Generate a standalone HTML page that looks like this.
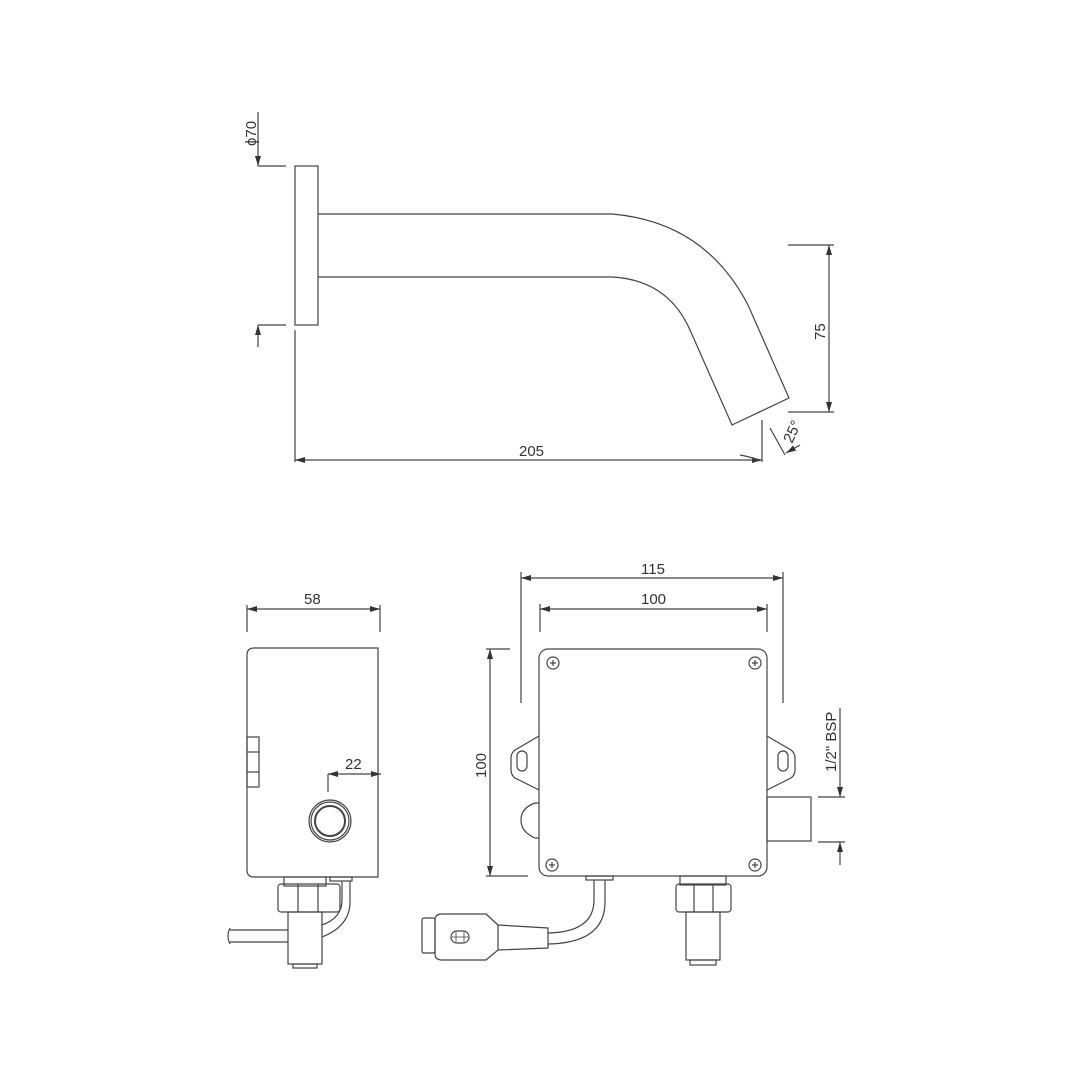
<!DOCTYPE html>
<html><head><meta charset="utf-8"><style>body{margin:0;background:#fff}svg{display:block}text{font-family:"Liberation Sans",sans-serif;fill:#333;stroke:none;font-size:15px}</style></head><body>
<svg width="1080" height="1080" viewBox="0 0 1080 1080" fill="none" stroke="#444" stroke-width="1.2">
<defs><marker id="a" markerWidth="10" markerHeight="6" refX="10" refY="3" orient="auto-start-reverse" markerUnits="userSpaceOnUse"><path d="M0,0 L10,3 L0,6z" fill="#333" stroke="none"/></marker></defs>
<rect x="295" y="166" width="23" height="159"/>
<path d="M318,214 H612 Q705,222 748,305 L789,398 L732,425 L690,330 Q668,280 612,277 H318"/>
<line x1="258" y1="112" x2="258" y2="166" marker-end="url(#a)"/>
<line x1="258" y1="166" x2="286" y2="166"/>
<line x1="258" y1="347" x2="258" y2="325" marker-end="url(#a)"/>
<line x1="258" y1="325" x2="286" y2="325"/>
<text transform="translate(256,146) rotate(-90)">ϕ70</text>
<line x1="788" y1="245" x2="834" y2="245"/><line x1="788" y1="412" x2="834" y2="412"/>
<line x1="829" y1="330" x2="829" y2="245" marker-end="url(#a)"/><line x1="829" y1="330" x2="829" y2="412" marker-end="url(#a)"/>
<text transform="translate(825,340) rotate(-90)">75</text>
<line x1="295" y1="330" x2="295" y2="462"/><line x1="762" y1="420" x2="762" y2="462"/>
<line x1="530" y1="460" x2="295" y2="460" marker-end="url(#a)"/><line x1="530" y1="460" x2="762" y2="460" marker-end="url(#a)"/>
<path d="M740,455 Q752,457 760,461"/>
<text x="519" y="456">205</text>
<line x1="770" y1="428" x2="785" y2="455"/><line x1="800" y1="445" x2="786" y2="453" marker-end="url(#a)"/>
<text transform="translate(792,444) rotate(-65)" font-size="13">25°</text>
<path d="M254,648 H378 V877 H254 Q247,877 247,870 V655 Q247,648 254,648Z"/>
<rect x="247" y="737" width="12" height="50"/><line x1="247" y1="752" x2="259" y2="752"/><line x1="247" y1="772" x2="259" y2="772"/>
<circle cx="330" cy="821" r="21"/><circle cx="330" cy="821" r="19"/><circle cx="330" cy="821" r="15" stroke-width="2"/>
<line x1="247" y1="605" x2="247" y2="632"/><line x1="380" y1="605" x2="380" y2="632"/>
<line x1="313" y1="609" x2="247" y2="609" marker-end="url(#a)"/><line x1="313" y1="609" x2="380" y2="609" marker-end="url(#a)"/>
<text x="304" y="604">58</text>
<line x1="328" y1="774" x2="328" y2="792"/>
<line x1="352" y1="774" x2="328" y2="774" marker-end="url(#a)"/><line x1="352" y1="774" x2="381" y2="774" marker-end="url(#a)"/>
<text x="345" y="769">22</text>
<rect x="284" y="877" width="42" height="9"/>
<rect x="278" y="884" width="62" height="28" rx="3"/><line x1="298" y1="884" x2="298" y2="912"/><line x1="318" y1="884" x2="318" y2="912"/>
<rect x="288" y="912" width="34" height="52"/><rect x="293" y="964" width="24" height="4"/>
<rect x="330" y="877" width="22" height="4"/>
<path d="M342,881 V900 Q342,918 322,925 M350,881 V902 Q350,926 322,937"/>
<path d="M230,930 H288 M230,942 H288 M230,928 Q226,936 230,944"/>
<rect x="539" y="649" width="228" height="227" rx="9"/>
<g><circle cx="553" cy="663" r="6"/><circle cx="755" cy="663" r="6"/><circle cx="552" cy="865" r="6"/><circle cx="755" cy="865" r="6"/>
<path d="M550,663h6M553,660v6M752,663h6M755,660v6M549,865h6M552,862v6M752,865h6M755,862v6"/></g>
<path d="M539,736 L515,750 Q511,753 511,758 V770 Q511,775 515,778 L539,790"/><rect x="517" y="751" width="10" height="20" rx="5"/>
<path d="M767,736 L791,750 Q795,753 795,758 V770 Q795,775 791,778 L767,790"/><rect x="778" y="751" width="10" height="20" rx="5"/>
<path d="M539,803 H535 Q521,808 521,820 Q521,832 535,838 H539"/>
<rect x="767" y="797" width="44" height="44"/>
<line x1="521" y1="572" x2="521" y2="703"/><line x1="783" y1="572" x2="783" y2="703"/>
<line x1="652" y1="578" x2="521" y2="578" marker-end="url(#a)"/><line x1="652" y1="578" x2="783" y2="578" marker-end="url(#a)"/>
<text x="641" y="574">115</text>
<line x1="540" y1="604" x2="540" y2="632"/><line x1="767" y1="604" x2="767" y2="632"/>
<line x1="653" y1="609" x2="540" y2="609" marker-end="url(#a)"/><line x1="653" y1="609" x2="767" y2="609" marker-end="url(#a)"/>
<text x="641" y="604">100</text>
<line x1="486" y1="649" x2="510" y2="649"/><line x1="486" y1="876" x2="528" y2="876"/>
<line x1="490" y1="762" x2="490" y2="649" marker-end="url(#a)"/><line x1="490" y1="762" x2="490" y2="876" marker-end="url(#a)"/>
<text transform="translate(486,778) rotate(-90)">100</text>
<line x1="818" y1="797" x2="845" y2="797"/><line x1="818" y1="842" x2="845" y2="842"/>
<line x1="840" y1="708" x2="840" y2="797" marker-end="url(#a)"/><line x1="840" y1="865" x2="840" y2="842" marker-end="url(#a)"/>
<text transform="translate(836,772) rotate(-90)">1/2" BSP</text>
<rect x="586" y="876" width="27" height="4"/>
<path d="M594,880 V900 Q594,932 548,933 M605,880 V902 Q605,943 548,944"/>
<path d="M548,928 L498,925 L498,950 L548,948Z"/>
<path d="M498,925 L486,914 H442 Q435,914 435,920 V954 Q435,960 442,960 H486 L498,950"/>
<rect x="422" y="918" width="13" height="35" rx="2"/>
<rect x="451" y="931" width="18" height="12" rx="6"/><path d="M456,932v10M464,932v10M452,937h16" stroke-width="0.8"/>
<rect x="680" y="876" width="46" height="9"/>
<rect x="676" y="884" width="55" height="28" rx="3"/><line x1="694" y1="884" x2="694" y2="912"/><line x1="713" y1="884" x2="713" y2="912"/>
<rect x="686" y="912" width="34" height="48"/><rect x="690" y="960" width="26" height="5"/>
</svg>
</body></html>
